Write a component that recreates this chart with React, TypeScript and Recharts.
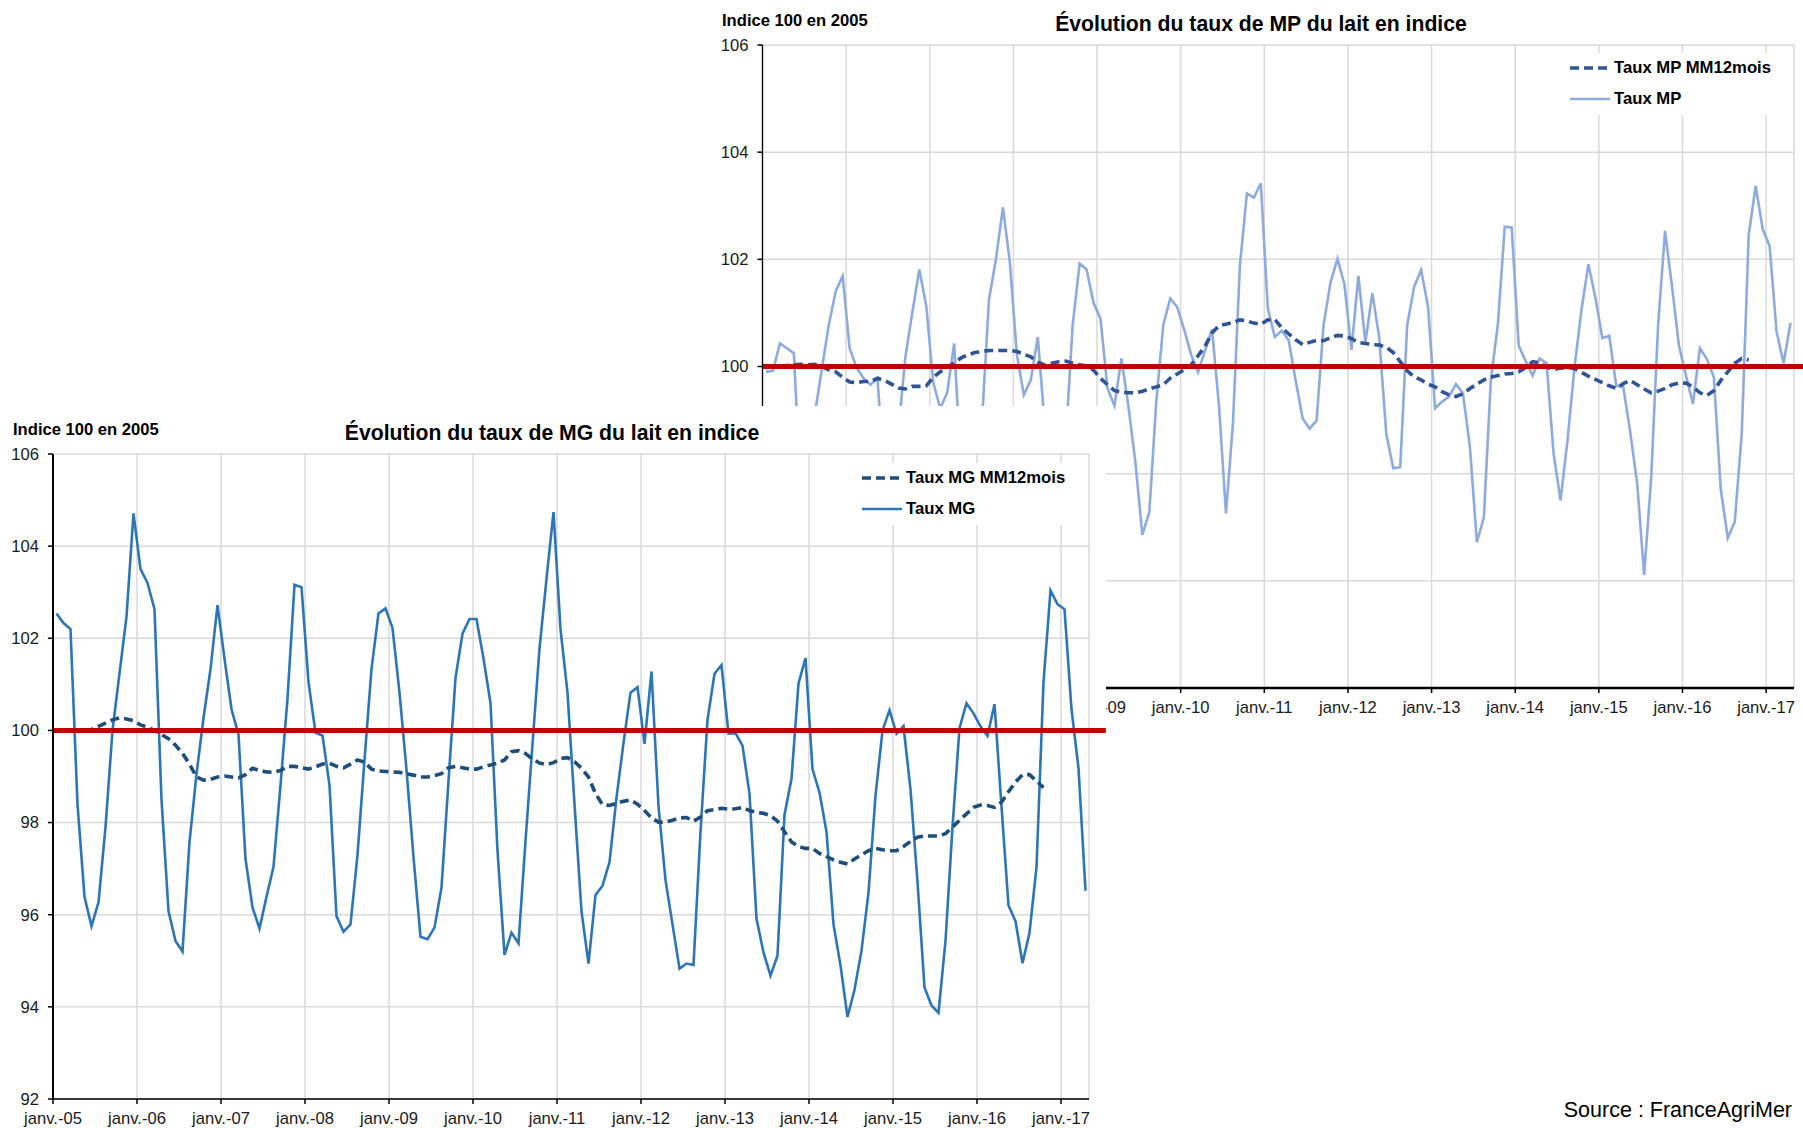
import { CartesianGrid, Legend, Line, LineChart, ReferenceLine, XAxis, YAxis } from "recharts";

const FONT = '"Liberation Sans", Arial, Helvetica, sans-serif';
const INK = "#1a1a1a";
const GRID = "#d9d9d9";
const RED = "#c00000";

// axis labels, one per january
const TICK_LABELS = [
  "janv.-05", "janv.-06", "janv.-07", "janv.-08", "janv.-09", "janv.-10", "janv.-11",
  "janv.-12", "janv.-13", "janv.-14", "janv.-15", "janv.-16", "janv.-17",
];
const MONTH_TICKS = TICK_LABELS.map((_, i) => i * 12);

const MG_Y_TICKS = [92, 94, 96, 98, 100, 102, 104, 106];
const MP_Y_TICKS = [94, 96, 98, 100, 102, 104, 106];

// monthly values, janv.-05 .. avr.-17
const MG_TAUX = [
  102.54, 102.33, 102.2, 98.4, 96.39, 95.75, 96.27, 97.9, 100.0, 101.24, 102.47, 104.71,
  103.5, 103.2, 102.63, 98.5, 96.08, 95.43, 95.2, 97.58, 99.05, 100.27, 101.33, 102.72,
  101.56, 100.46, 99.91, 97.21, 96.16, 95.7, 96.39, 97.04, 98.81, 100.69, 103.16, 103.11,
  101.05, 99.95, 99.89, 98.81, 95.97, 95.63, 95.79, 97.3, 99.36, 101.33, 102.54, 102.65,
  102.22, 100.82, 99.15, 97.25, 95.52, 95.47, 95.72, 96.59, 98.9, 101.14, 102.1, 102.42,
  102.42, 101.56, 100.59, 97.39, 95.13, 95.61, 95.38, 97.6, 99.7, 101.78, 103.29, 104.74,
  102.2, 100.82, 98.4, 96.07, 94.94, 96.43, 96.63, 97.14, 98.54, 99.73, 100.82, 100.94,
  99.71, 101.28, 98.35, 96.75, 95.79, 94.83, 94.94, 94.91, 97.8, 100.23, 101.23, 101.42,
  99.93, 99.94, 99.67, 98.63, 95.91, 95.18, 94.68, 95.11, 98.17, 98.95, 101.02, 101.57,
  99.16, 98.65, 97.8, 95.79, 94.9, 93.78, 94.37, 95.22, 96.48, 98.58, 100.0, 100.44,
  99.93, 100.09, 98.72, 96.71, 94.42, 94.03, 93.87, 95.43, 97.9, 100.05, 100.59, 100.37,
  100.09, 99.88, 100.57, 98.35, 96.2, 95.86, 94.95, 95.61, 97.03, 101.05, 103.04, 102.74,
  102.63, 100.46, 99.18, 96.52,
];

const MG_MM12 = [
  100.0, 100.0, 100.0, 100.0, 100.0, 100.02, 100.09, 100.16, 100.23, 100.27, 100.25, 100.21,
  100.12, 100.07, 100.0, 99.91, 99.82, 99.68, 99.5, 99.27, 98.99, 98.92, 98.94, 98.99,
  99.01, 98.99, 98.97, 99.04, 99.18, 99.13, 99.1, 99.09, 99.13, 99.22, 99.22, 99.19,
  99.16, 99.21, 99.27, 99.29, 99.22, 99.19, 99.27, 99.36, 99.31, 99.16, 99.12, 99.11,
  99.1, 99.09, 99.06, 99.03, 98.99, 98.99, 99.02, 99.06, 99.19, 99.22, 99.19, 99.16,
  99.16, 99.21, 99.25, 99.29, 99.36, 99.54, 99.56, 99.5, 99.38, 99.29, 99.26, 99.3,
  99.39, 99.41, 99.32, 99.18, 98.99, 98.63, 98.39, 98.37, 98.42, 98.46, 98.49, 98.4,
  98.26, 98.1, 98.01, 98.01, 98.05, 98.1, 98.11, 98.03, 98.12, 98.26, 98.28, 98.31,
  98.29, 98.3, 98.33, 98.26, 98.22, 98.2, 98.15, 98.03, 97.8, 97.58, 97.48, 97.44,
  97.44, 97.33, 97.26, 97.19, 97.14, 97.1, 97.21, 97.3, 97.39, 97.44, 97.41, 97.39,
  97.39, 97.48, 97.59, 97.68, 97.71, 97.71, 97.71, 97.76, 97.9, 98.05, 98.19, 98.33,
  98.38, 98.37, 98.33, 98.44, 98.67, 98.88, 99.04, 99.04, 98.9, 98.76,
];

const MP_TAUX = [
  99.9, 99.92, 100.43, 100.34, 100.25, 97.6, 97.8, 99.1, 99.94, 100.77, 101.4, 101.69,
  100.34, 99.98, 99.78, 99.66, 99.78, 97.9, 97.4, 98.8, 100.18, 101.01, 101.81, 101.13,
  99.7, 99.22, 99.51, 100.43, 98.0, 97.2, 97.4, 99.0, 101.25, 102.01, 102.97, 101.93,
  100.22, 99.47, 99.75, 100.55, 98.9, 97.3, 97.0, 98.6, 100.77, 101.92, 101.81, 101.19,
  100.89, 99.59, 99.27, 100.15, 99.26, 98.22, 96.86, 97.28, 99.34, 100.77, 101.27, 101.11,
  100.69, 100.22, 99.9, 100.3, 100.69, 99.26, 97.26, 98.94, 101.89, 103.23, 103.15, 103.42,
  101.09, 100.55, 100.67, 100.49, 99.74, 99.03, 98.84, 98.99, 100.77, 101.57, 102.01, 101.53,
  100.31, 101.69, 100.45, 101.37, 100.53, 98.74, 98.1, 98.12, 100.77, 101.49, 101.8, 101.11,
  99.22, 99.34, 99.44, 99.67, 99.5, 98.5, 96.72, 97.18, 99.74, 100.77, 102.61, 102.59,
  100.39, 100.1, 99.83, 100.15, 100.06, 98.38, 97.5, 98.62, 99.98, 101.05, 101.91, 101.29,
  100.53, 100.57, 99.64, 99.62, 98.78, 97.82, 96.11, 97.9, 100.77, 102.53, 101.49, 100.38,
  99.83, 99.3, 100.34, 100.14, 99.8, 97.7, 96.8, 97.1, 98.74, 102.45, 103.37, 102.57,
  102.25, 100.65, 100.06, 100.81,
];

const MP_MM12 = [
  100.0, 100.0, 100.01, 100.02, 100.03, 100.04, 100.03, 100.04, 100.0, 99.94, 99.9, 99.8,
  99.71, 99.7, 99.72, 99.72, 99.78, 99.74, 99.67, 99.6, 99.58, 99.63, 99.63, 99.64,
  99.8, 99.9, 99.98, 100.07, 100.16, 100.22, 100.26, 100.28, 100.3, 100.3, 100.3, 100.3,
  100.28, 100.23, 100.18, 100.08, 100.03, 100.06, 100.09, 100.1, 100.06, 100.03, 100.01, 99.93,
  99.78, 99.66, 99.55, 99.52, 99.51, 99.51, 99.54, 99.58, 99.62, 99.66, 99.78, 99.86,
  99.94, 100.03, 100.2, 100.38, 100.63, 100.76, 100.79, 100.82, 100.87, 100.85, 100.81, 100.79,
  100.87, 100.88, 100.72, 100.61, 100.5, 100.41, 100.45, 100.49, 100.48, 100.54, 100.58, 100.57,
  100.52, 100.45, 100.43, 100.41, 100.4, 100.36, 100.26, 100.09, 99.92, 99.81, 99.75, 99.67,
  99.62, 99.53, 99.47, 99.44, 99.49, 99.59, 99.67, 99.75, 99.8, 99.83, 99.86, 99.87,
  99.9, 99.98, 100.09, 100.07, 99.99, 99.94, 99.97, 99.98, 99.96, 99.89, 99.82, 99.76,
  99.7, 99.64, 99.59, 99.68, 99.74, 99.66, 99.58, 99.51, 99.54, 99.59, 99.66, 99.69,
  99.69, 99.62, 99.51, 99.46, 99.55, 99.74, 99.9, 100.06, 100.15, 100.12,
];

// points sit mid-month, ticks on the 1st of january
function buildRows(taux: number[], avg: number[]) {
  return taux.map((v, i) => ({ t: i + 0.5, taux: v, avg: i < avg.length ? avg[i] : null }));
}

type LegendItem = { label: string; color: string; dashed: boolean };

function LegendBox({ items }: { items: LegendItem[] }) {
  return (
    <div style={{ position: "relative", width: 225, height: 62, background: "#fff" }}>
      {items.map((it, k) => (
        <div
          key={it.label}
          style={{
            position: "absolute",
            left: 4,
            top: 15 + k * 30.5 - 10,
            height: 20,
            display: "flex",
            alignItems: "center",
            whiteSpace: "nowrap",
            fontFamily: FONT,
            fontWeight: 700,
            fontSize: 16.7,
            color: "#000",
          }}
        >
          <svg width={40} height={8}>
            <line
              x1={0}
              y1={4}
              x2={40}
              y2={4}
              stroke={it.color}
              strokeWidth={it.dashed ? 3.5 : 2.5}
              strokeDasharray={it.dashed ? "9 5" : undefined}
            />
          </svg>
          <span style={{ marginLeft: 4 }}>{it.label}</span>
        </div>
      ))}
    </div>
  );
}

type PanelProps = {
  rows: { t: number; taux: number; avg: number | null }[];
  width: number;
  height: number;
  margin: { top: number; right: number; left: number; bottom: number };
  yAxisWidth: number;
  xAxisHeight: number;
  yDomain: [number, number];
  yTicks: number[];
  tauxColor: string;
  avgColor: string;
  tauxName: string;
  avgName: string;
  redEnd: number;
  legendPos: { left: number; top: number };
  xAxisWidth: number;
  yAxisLineWidth: number;
};

function Panel(p: PanelProps) {
  const tickStyle = { fill: INK, fontSize: 16.6, fontFamily: FONT };
  return (
    <LineChart width={p.width} height={p.height} data={p.rows} margin={p.margin}>
      <CartesianGrid stroke={GRID} strokeWidth={1.5} />
      <XAxis
        type="number"
        dataKey="t"
        domain={[0, 148]}
        ticks={MONTH_TICKS}
        interval={0}
        allowDataOverflow
        height={p.xAxisHeight}
        tickSize={5}
        tickMargin={8}
        tick={tickStyle}
        tickFormatter={(v) => TICK_LABELS[Math.round(Number(v) / 12)] ?? ""}
        axisLine={{ stroke: "#000", strokeWidth: p.xAxisWidth }}
        tickLine={{ stroke: "#000", strokeWidth: 1.5 }}
      />
      <YAxis
        type="number"
        domain={p.yDomain}
        ticks={p.yTicks}
        interval={0}
        allowDataOverflow
        width={p.yAxisWidth}
        tickSize={5}
        tickMargin={9}
        tick={tickStyle}
        axisLine={{ stroke: "#000", strokeWidth: p.yAxisLineWidth }}
        tickLine={{ stroke: "#000", strokeWidth: 1.5 }}
      />
      <Line
        type="linear"
        dataKey="taux"
        name={p.tauxName}
        stroke={p.tauxColor}
        strokeWidth={2.6}
        dot={false}
        activeDot={false}
        isAnimationActive={false}
      />
      <Line
        type="linear"
        dataKey="avg"
        name={p.avgName}
        stroke={p.avgColor}
        strokeWidth={3.6}
        strokeDasharray="9 5"
        dot={false}
        activeDot={false}
        connectNulls={false}
        isAnimationActive={false}
      />
      <ReferenceLine
        segment={[
          { x: 0, y: 100 },
          { x: p.redEnd, y: 100 },
        ]}
        ifOverflow="visible"
        stroke={RED}
        strokeWidth={5}
      />
      <Legend
        layout="vertical"
        align="center"
        verticalAlign="middle"
        wrapperStyle={{ left: p.legendPos.left, top: p.legendPos.top, width: 225, height: 62 }}
        content={() => (
          <LegendBox
            items={[
              { label: p.avgName, color: p.avgColor, dashed: true },
              { label: p.tauxName, color: p.tauxColor, dashed: false },
            ]}
          />
        )}
      />
    </LineChart>
  );
}

const labelStyle = {
  position: "absolute" as const,
  fontFamily: FONT,
  fontWeight: 700,
  color: "#000",
  whiteSpace: "nowrap" as const,
  lineHeight: 1,
};

export default function App() {
  const mgRows = buildRows(MG_TAUX, MG_MM12);
  const mpRows = buildRows(MP_TAUX, MP_MM12);
  return (
    <div
      style={{
        position: "absolute",
        left: 0,
        top: 0,
        width: 1803,
        height: 1128,
        background: "#fff",
        overflow: "hidden",
        fontFamily: FONT,
      }}
    >
      {/* MP chart, top right, partly hidden by the MG chart */}
      <div style={{ position: "absolute", left: 700, top: 0, width: 1103, height: 740 }}>
        <div style={{ ...labelStyle, left: 22, top: 13, fontSize: 16.6 }}>Indice 100 en 2005</div>
        <div
          style={{ ...labelStyle, left: 561, top: 12.5, fontSize: 21.2, transform: "translateX(-50%)" }}
        >
          Évolution du taux de MP du lait en indice
        </div>
        <Panel
          rows={mpRows}
          width={1103}
          height={740}
          margin={{ top: 45, right: 9, left: 0, bottom: 0 }}
          yAxisWidth={62.5}
          xAxisHeight={52}
          yDomain={[94, 106]}
          yTicks={MP_Y_TICKS}
          tauxColor="#8faadc"
          avgColor="#2f5597"
          tauxName="Taux MP"
          avgName="Taux MP MM12mois"
          redEnd={149.3}
          legendPos={{ left: 866, top: 53 }}
          xAxisWidth={2.5}
          yAxisLineWidth={1.3}
        />
      </div>

      {/* MG chart, bottom left, drawn on a white box */}
      <div
        style={{ position: "absolute", left: 0, top: 406, width: 1106, height: 722, background: "#fff" }}
      >
        <div style={{ ...labelStyle, left: 13, top: 16, fontSize: 16.6 }}>Indice 100 en 2005</div>
        <div
          style={{ ...labelStyle, left: 552, top: 16, fontSize: 21.2, transform: "translateX(-50%)" }}
        >
          Évolution du taux de MG du lait en indice
        </div>
        <Panel
          rows={mgRows}
          width={1106}
          height={722}
          margin={{ top: 48, right: 17, left: 0, bottom: 0 }}
          yAxisWidth={53}
          xAxisHeight={29}
          yDomain={[92, 106]}
          yTicks={MG_Y_TICKS}
          tauxColor="#2e75b6"
          avgColor="#1f4e79"
          tauxName="Taux MG"
          avgName="Taux MG MM12mois"
          redEnd={150.4}
          legendPos={{ left: 858, top: 57 }}
          xAxisWidth={1.5}
          yAxisLineWidth={2}
        />
      </div>

      <div
        style={{
          position: "absolute",
          right: 11,
          top: 1099.5,
          fontFamily: FONT,
          fontSize: 21.5,
          lineHeight: 1,
          color: "#000",
          whiteSpace: "nowrap",
        }}
      >
        Source : FranceAgriMer
      </div>
    </div>
  );
}
